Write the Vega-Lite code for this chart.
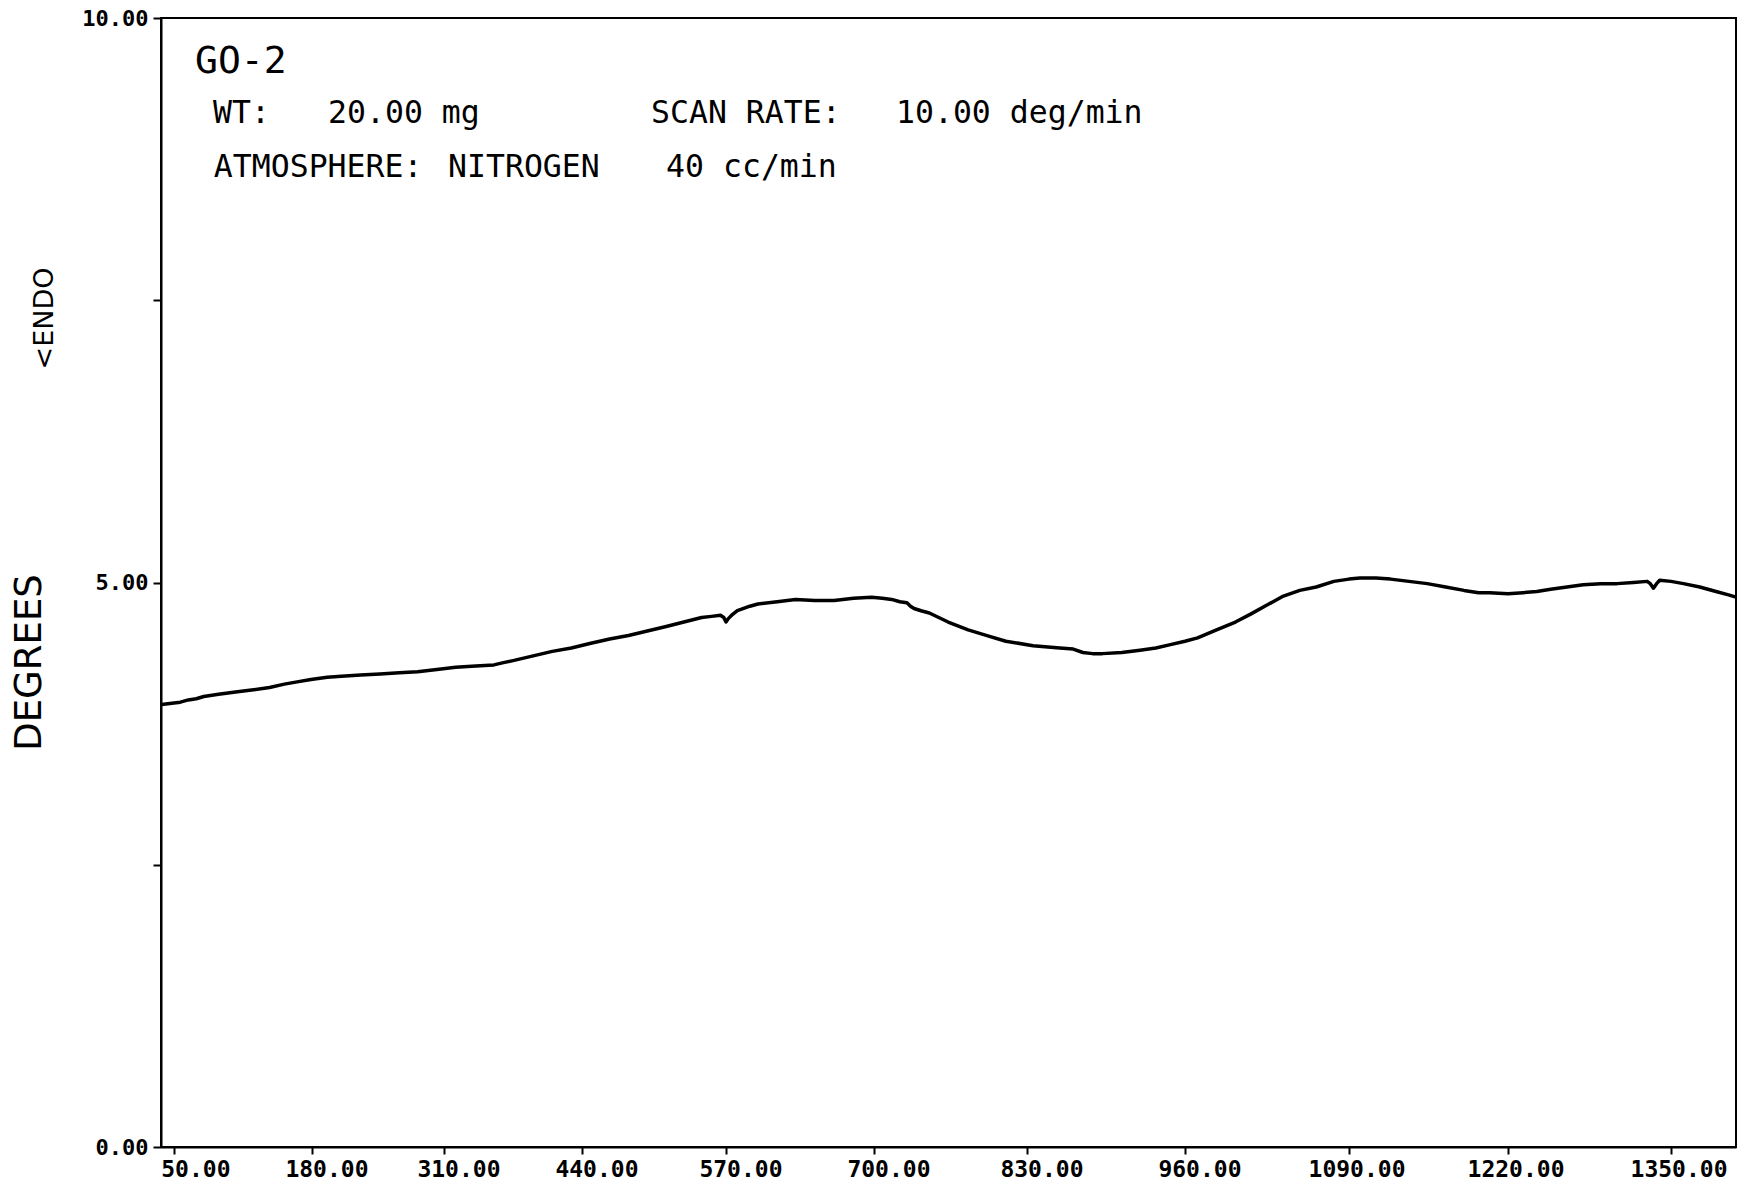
{
  "$schema": "https://vega.github.io/schema/vega-lite/v6.json",
  "width": 1575,
  "height": 1129,
  "autosize": {"type": "none"},
  "padding": {"left": 161, "top": 18, "right": 11, "bottom": 45},
  "background": "white",
  "config": {
    "view": {"stroke": "black", "strokeWidth": 2},
    "axis": {
      "domainColor": "black",
      "domainWidth": 2,
      "tickColor": "black",
      "tickWidth": 2,
      "labelColor": "black",
      "titleColor": "black",
      "grid": false
    }
  },
  "title": {
    "text": "<ENDO",
    "orient": "left",
    "anchor": "middle",
    "frame": "group",
    "font": "DejaVu Sans",
    "fontSize": 27,
    "fontWeight": "normal",
    "color": "black",
    "baseline": "alphabetic",
    "offset": -70,
    "dx": 264
  },
  "datasets": {
    "trace": [
      {"t": 38.5, "d": 3.92}, {"t": 48, "d": 3.93}, {"t": 56, "d": 3.94}, {"t": 63.5, "d": 3.96},
      {"t": 71, "d": 3.97}, {"t": 78, "d": 3.99}, {"t": 92, "d": 4.01}, {"t": 108, "d": 4.03},
      {"t": 125, "d": 4.05}, {"t": 140, "d": 4.07}, {"t": 154, "d": 4.10}, {"t": 166, "d": 4.12},
      {"t": 179, "d": 4.14}, {"t": 195, "d": 4.16}, {"t": 209, "d": 4.17}, {"t": 228, "d": 4.18},
      {"t": 247, "d": 4.19}, {"t": 266, "d": 4.20}, {"t": 284, "d": 4.21}, {"t": 303, "d": 4.23},
      {"t": 321, "d": 4.25}, {"t": 340, "d": 4.26}, {"t": 357, "d": 4.27}, {"t": 366, "d": 4.29},
      {"t": 376, "d": 4.31}, {"t": 394, "d": 4.35}, {"t": 412, "d": 4.39}, {"t": 430, "d": 4.42},
      {"t": 447, "d": 4.46}, {"t": 465, "d": 4.50}, {"t": 482, "d": 4.53}, {"t": 499, "d": 4.57},
      {"t": 516, "d": 4.61}, {"t": 532, "d": 4.65}, {"t": 548, "d": 4.69}, {"t": 557, "d": 4.70},
      {"t": 565, "d": 4.71}, {"t": 568, "d": 4.69}, {"t": 570, "d": 4.65}, {"t": 572, "d": 4.68},
      {"t": 575, "d": 4.71}, {"t": 580, "d": 4.75}, {"t": 591, "d": 4.79}, {"t": 598, "d": 4.81},
      {"t": 615, "d": 4.83}, {"t": 631, "d": 4.85}, {"t": 648, "d": 4.84}, {"t": 665, "d": 4.84},
      {"t": 682, "d": 4.86}, {"t": 698, "d": 4.87}, {"t": 707, "d": 4.86}, {"t": 715, "d": 4.85},
      {"t": 722, "d": 4.83}, {"t": 728, "d": 4.82}, {"t": 731, "d": 4.79}, {"t": 734, "d": 4.77},
      {"t": 740, "d": 4.75}, {"t": 747, "d": 4.73}, {"t": 763, "d": 4.65}, {"t": 780, "d": 4.58},
      {"t": 796, "d": 4.53}, {"t": 812, "d": 4.48}, {"t": 835, "d": 4.44}, {"t": 857, "d": 4.42},
      {"t": 868, "d": 4.41}, {"t": 876, "d": 4.38}, {"t": 884, "d": 4.37}, {"t": 892, "d": 4.37},
      {"t": 908, "d": 4.38}, {"t": 923, "d": 4.40}, {"t": 936, "d": 4.42}, {"t": 948, "d": 4.45},
      {"t": 960, "d": 4.48}, {"t": 970, "d": 4.51}, {"t": 985, "d": 4.58}, {"t": 1000, "d": 4.65},
      {"t": 1012, "d": 4.72}, {"t": 1025, "d": 4.80}, {"t": 1038, "d": 4.88}, {"t": 1051, "d": 4.93},
      {"t": 1064, "d": 4.96}, {"t": 1078, "d": 5.01}, {"t": 1090, "d": 5.03}, {"t": 1099, "d": 5.04},
      {"t": 1112, "d": 5.04}, {"t": 1124, "d": 5.03}, {"t": 1139, "d": 5.01}, {"t": 1154, "d": 4.99},
      {"t": 1169, "d": 4.96}, {"t": 1184, "d": 4.93}, {"t": 1196, "d": 4.91}, {"t": 1205, "d": 4.91},
      {"t": 1220, "d": 4.90}, {"t": 1232, "d": 4.91}, {"t": 1243, "d": 4.92}, {"t": 1254, "d": 4.94},
      {"t": 1267, "d": 4.96}, {"t": 1280, "d": 4.98}, {"t": 1294, "d": 4.99}, {"t": 1307, "d": 4.99},
      {"t": 1320, "d": 5.00}, {"t": 1331, "d": 5.01}, {"t": 1333.5, "d": 4.99}, {"t": 1336, "d": 4.95},
      {"t": 1338.5, "d": 4.99}, {"t": 1341, "d": 5.02}, {"t": 1350, "d": 5.01}, {"t": 1360, "d": 4.99},
      {"t": 1373, "d": 4.96}, {"t": 1386, "d": 4.92}, {"t": 1396, "d": 4.89}, {"t": 1402, "d": 4.87}
    ],
    "notes": [
      {"kind": "sample", "label": "GO-2", "t": 69.8, "d": 9.51},
      {"kind": "run", "label": "WT:", "t": 86.7, "d": 9.07},
      {"kind": "run", "label": "20.00 mg", "t": 195.8, "d": 9.07},
      {"kind": "run", "label": "SCAN RATE:", "t": 502.3, "d": 9.07},
      {"kind": "run", "label": "10.00 deg/min", "t": 718.7, "d": 9.07},
      {"kind": "run", "label": "ATMOSPHERE:", "t": 87.5, "d": 8.59},
      {"kind": "run", "label": "NITROGEN", "t": 313.8, "d": 8.59},
      {"kind": "run", "label": "40 cc/min", "t": 515.9, "d": 8.59}
    ]
  },
  "encoding": {
    "x": {
      "field": "t",
      "type": "quantitative",
      "scale": {
        "type": "linear",
        "domain": [37.8, 50, 180, 310, 440, 570, 700, 830, 960, 1090, 1220, 1350, 1402],
        "range": [0, 13, 151, 283, 421, 565, 713, 866, 1024, 1188, 1347, 1510, 1575],
        "nice": false,
        "zero": false
      },
      "axis": {
        "values": [50, 180, 310, 440, 570, 700, 830, 960, 1090, 1220, 1350],
        "format": ".2f",
        "title": null,
        "tickSize": 7,
        "labelPadding": 4,
        "labelAlign": "right",
        "labelOffset": 56,
        "labelFont": "DejaVu Sans Mono",
        "labelFontSize": 23,
        "labelFontWeight": "bold",
        "labelOverlap": false,
        "labelBound": false,
        "labelFlush": false
      }
    },
    "y": {
      "field": "d",
      "type": "quantitative",
      "scale": {"domain": [0, 10], "nice": false, "zero": false},
      "axis": {
        "values": [0, 2.5, 5, 7.5, 10],
        "labelExpr": "datum.value % 5 === 0 ? format(datum.value, '.2f') : ''",
        "tickSize": 8,
        "labelPadding": 5,
        "labelFont": "DejaVu Sans Mono",
        "labelFontSize": 22,
        "labelFontWeight": "bold",
        "labelOverlap": false,
        "labelBound": false,
        "labelFlush": false,
        "title": "DEGREES",
        "titleFont": "DejaVu Sans",
        "titleFontSize": 37,
        "titleFontWeight": "normal",
        "titleAngle": 270,
        "titleAlign": "center",
        "titleBaseline": "alphabetic",
        "titleX": -121,
        "titleY": 644
      }
    }
  },
  "layer": [
    {
      "data": {"name": "trace"},
      "mark": {"type": "line", "color": "black", "strokeWidth": 3.5, "strokeJoin": "round"}
    },
    {
      "data": {"name": "notes"},
      "transform": [{"filter": "datum.kind === 'sample'"}],
      "mark": {"type": "text", "align": "left", "baseline": "alphabetic", "font": "DejaVu Sans Mono", "fontSize": 38, "color": "black"},
      "encoding": {"text": {"field": "label"}}
    },
    {
      "data": {"name": "notes"},
      "transform": [{"filter": "datum.kind === 'run'"}],
      "mark": {"type": "text", "align": "left", "baseline": "alphabetic", "font": "DejaVu Sans Mono", "fontSize": 31.5, "color": "black"},
      "encoding": {"text": {"field": "label"}}
    }
  ]
}
